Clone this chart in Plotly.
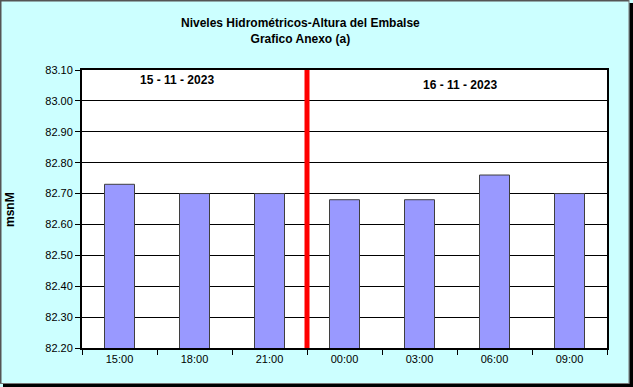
import plotly.graph_objects as go

categories = ["15:00", "18:00", "21:00", "00:00", "03:00", "06:00", "09:00"]
levels = [82.73, 82.70, 82.70, 82.68, 82.68, 82.76, 82.70]
day_labels = ["15 - 11 - 2023", "16 - 11 - 2023"]
title_lines = ["Niveles Hidrométricos-Altura del Embalse", "Grafico Anexo (a)"]
y_min, y_max = 82.20, 83.10
divider_index = 2.5  # boundary between 21:00 and 00:00

W, H = 633, 387
L, R, T, B = 82, 607, 70, 348

def xp(px):
    return (px - L) / (R - L)

def yp(py):
    return (B - py) / (B - T)

FONT = "Arial, Liberation Sans, sans-serif"

fig = go.Figure()
fig.add_trace(go.Bar(
    x=categories, y=levels,
    marker=dict(color="#9999FF", line=dict(color="#3f3f3f", width=1)),
    hoverinfo="x+y",
))

shapes = [
    # red divider
    dict(type="line", xref="x", yref="y", x0=divider_index, x1=divider_index,
         y0=y_min, y1=y_max, line=dict(color="#FF0000", width=5), layer="above"),
    # outer frame: gray left/top, gray + black shadow right/bottom
    dict(type="rect", xref="paper", yref="paper", x0=xp(0), x1=xp(1.5), y0=yp(384), y1=yp(0),
         fillcolor="#555555", line=dict(width=0), layer="below"),
    dict(type="rect", xref="paper", yref="paper", x0=xp(0), x1=xp(629), y0=yp(1.5), y1=yp(0),
         fillcolor="#555555", line=dict(width=0), layer="below"),
    dict(type="rect", xref="paper", yref="paper", x0=xp(628.5), x1=xp(629.5), y0=yp(384), y1=yp(0),
         fillcolor="#777777", line=dict(width=0), layer="below"),
    dict(type="rect", xref="paper", yref="paper", x0=xp(0), x1=xp(629.5), y0=yp(384), y1=yp(383),
         fillcolor="#777777", line=dict(width=0), layer="below"),
    dict(type="rect", xref="paper", yref="paper", x0=xp(629.5), x1=xp(633), y0=yp(387), y1=yp(3),
         fillcolor="#000000", line=dict(width=0), layer="below"),
    dict(type="rect", xref="paper", yref="paper", x0=xp(3), x1=xp(633), y0=yp(387), y1=yp(384),
         fillcolor="#000000", line=dict(width=0), layer="below"),
]

annotations = [
    dict(text="<b>" + "<br>".join(title_lines) + "</b>", xref="paper", yref="paper",
         x=xp(300), y=yp(31.5), showarrow=False,
         font=dict(family=FONT, size=12, color="black"),
         xanchor="center", yanchor="middle", align="center"),
    dict(text="<b>" + day_labels[0] + "</b>", xref="paper", yref="paper", x=xp(177), y=yp(80),
         showarrow=False, font=dict(family=FONT, size=12, color="black"),
         xanchor="center", yanchor="middle"),
    dict(text="<b>" + day_labels[1] + "</b>", xref="paper", yref="paper", x=xp(460), y=yp(85),
         showarrow=False, font=dict(family=FONT, size=12, color="black"),
         xanchor="center", yanchor="middle"),
    dict(text="<b>msnM</b>", xref="paper", yref="paper", x=xp(10), y=yp(210),
         showarrow=False, textangle=-90, font=dict(family=FONT, size=12, color="black"),
         xanchor="center", yanchor="middle"),
]

fig.update_layout(
    width=W, height=H,
    margin=dict(l=L, r=W - R, t=T, b=H - B, pad=0),
    paper_bgcolor="#CCFFFF",
    plot_bgcolor="#FFFFFF",
    bargap=0.6,
    showlegend=False,
    font=dict(family=FONT, size=11, color="black"),
    shapes=shapes,
    annotations=annotations,
    xaxis=dict(
        type="category",
        showgrid=False, zeroline=False,
        showline=True, linecolor="black", linewidth=2, mirror=True,
        ticks="outside", tickson="boundaries", ticklen=5, tickcolor="black",
        tickfont=dict(family=FONT, size=11, color="black"),
        fixedrange=True,
    ),
    yaxis=dict(
        range=[y_min, y_max], dtick=0.1, tick0=y_min, tickformat=".2f",
        showgrid=True, gridcolor="black", gridwidth=1,
        zeroline=False,
        showline=True, linecolor="black", linewidth=2, mirror=True,
        ticks="outside", ticklen=5, tickcolor="black",
        tickfont=dict(family=FONT, size=11, color="black"),
        fixedrange=True,
    ),
)

fig.write_html("out.html")
